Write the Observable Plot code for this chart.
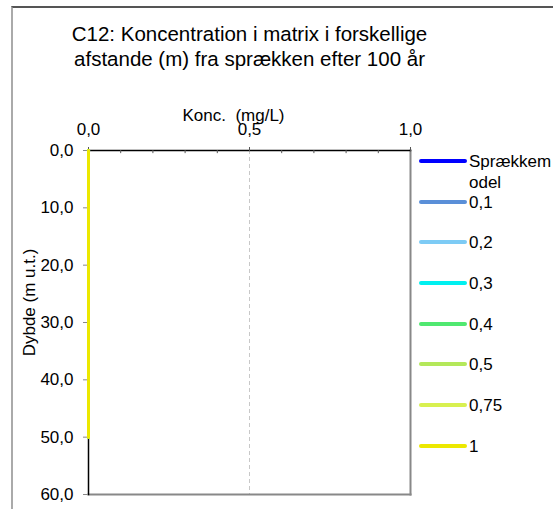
<!DOCTYPE html>
<html><head><meta charset="utf-8">
<script src="https://cdn.jsdelivr.net/npm/d3@7"></script>
<script src="https://cdn.jsdelivr.net/npm/@observablehq/plot@0.6"></script>
<style>
body{margin:0;background:#fff;font-family:"Liberation Sans",Arial,sans-serif;}
#wrap{position:relative;width:553px;height:509px;overflow:hidden;}
#frame{position:absolute;left:11px;top:6px;width:600px;height:600px;border-top:2px solid #555;border-left:2px solid #aaa;}
#legend{position:absolute;left:419px;top:141px;font-size:17px;color:#000;}
.item{position:relative;height:40.7px;width:134px;}
.item svg{position:absolute;left:0;top:18px;overflow:visible;}
.item span{position:absolute;left:50px;top:10px;line-height:21px;width:86px;word-break:break-all;}
#chart{position:absolute;left:0;top:0;}
</style></head>
<body><div id="wrap"><div id="frame"></div><div id="chart"></div><div id="legend"></div></div>
<script>
const seriesNames = ["Sprækkemodel","0,1","0,2","0,3","0,4","0,5","0,75","1"];
const seriesColors = ["#0000ff","#5a8fd8","#7dcbf5","#00f0f0","#50e870","#b4e85a","#d8f050","#ece800"];
const depths = [0,10,20,30,40,50];
const concentrations = {
  "Sprækkemodel":[0,0,0,0,0,0],
  "0,1":[0,0,0,0,0,0],
  "0,2":[0,0,0,0,0,0],
  "0,3":[0,0,0,0,0,0],
  "0,4":[0,0,0,0,0,0],
  "0,5":[0,0,0,0,0,0],
  "0,75":[0,0,0,0,0,0],
  "1":[0,0,0,0,0,0]
};
const xTicks = [0,0.5,1];
const xMinor = [0.1,0.2,0.3,0.4,0.6,0.7,0.8,0.9];
const yTicks = [0,10,20,30,40,50,60];
const titleLines = ["C12: Koncentration i matrix i forskellige","afstande (m) fra sprækken efter 100 år"];
const xLabel = "Konc.  (mg/L)";
const yLabel = "Dybde (m u.t.)";

const fmt = d => d3.format(".1f")(d).replace(".", ",");
const data = seriesNames.flatMap((s,i)=>depths.map((d,j)=>({series:s,depth:d,conc:concentrations[s][j]})));
const F = "Liberation Sans, Arial, sans-serif";

const chart = Plot.plot({
  width:553, height:509,
  marginLeft:88, marginRight:143, marginTop:150, marginBottom:15,
  style:{fontFamily:F, fontSize:"17px", color:"#000", background:"transparent"},
  x:{domain:[0,1], axis:null},
  y:{domain:[0,60], reverse:true, axis:null},
  color:{domain:seriesNames, range:seriesColors},
  marks:[
    Plot.ruleX([0.5],{stroke:"#c8c8c8", strokeDasharray:"4,3", strokeWidth:1}),
    Plot.frame({anchor:"right", stroke:"#888", strokeWidth:2}),
    Plot.frame({anchor:"bottom", stroke:"#888", strokeWidth:2}),
    Plot.frame({anchor:"top", stroke:"#000", strokeWidth:1.5}),
    Plot.frame({anchor:"left", stroke:"#000", strokeWidth:1.5}),
    Plot.ruleX(xMinor,{x:d=>d, y1:0, y2:0.55, stroke:"#555", strokeWidth:1}),
    Plot.axisX({anchor:"top", ticks:xTicks, tickFormat:fmt, tickSize:4, tickPadding:12, label:null, fontSize:17, stroke:"#555", fill:"#000"}),
    Plot.axisY({anchor:"left", ticks:yTicks, tickFormat:fmt, tickSize:5, tickPadding:10, label:null, fontSize:17, stroke:"#888", fill:"#000"}),
    Plot.text([xLabel],{frameAnchor:"top", lineAnchor:"middle", dy:-35, dx:-16, fontSize:17, text:d=>d}),
    Plot.text([yLabel],{frameAnchor:"left", textAnchor:"middle", lineAnchor:"middle", dx:-59, dy:-20, rotate:-90, fontSize:17, text:d=>d}),
    Plot.text([titleLines[0]],{frameAnchor:"top", lineAnchor:"middle", dy:-116, fontSize:20.5, text:d=>d}),
    Plot.text([titleLines[1]],{frameAnchor:"top", lineAnchor:"middle", dy:-91, fontSize:20.5, text:d=>d}),
    ...seriesNames.map(s=>Plot.line(data.filter(d=>d.series===s),{x:"conc", y:"depth", stroke:()=>s, strokeWidth:3}))
  ]
});
document.getElementById("chart").appendChild(chart);

const leg = d3.select("#legend");
seriesNames.forEach((s,i)=>{
  const it = leg.append("div").attr("class","item");
  it.append("svg").attr("width",48).attr("height",4)
    .append("line").attr("x1",2).attr("x2",46).attr("y1",2).attr("y2",2)
    .attr("stroke",seriesColors[i]).attr("stroke-width",4).attr("stroke-linecap","round");
  it.append("span").text(s);
});
</script>
</body></html>
